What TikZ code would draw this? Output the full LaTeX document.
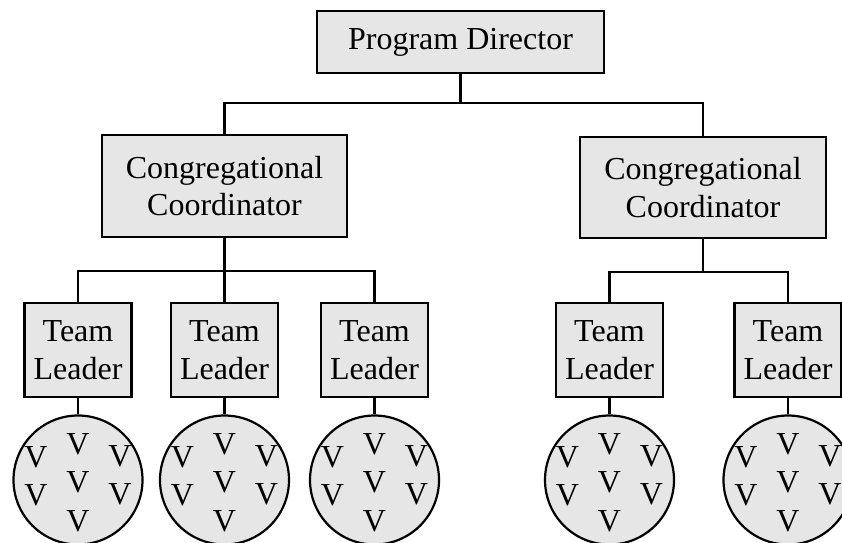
\documentclass[tikz,border=0pt]{standalone}
\usepackage{fontspec}
\setmainfont{Liberation Serif}
\definecolor{boxgray}{HTML}{E6E6E6}
\begin{document}
\begin{tikzpicture}[x=1pt,y=-1pt,line width=2.2pt,
  box/.style={draw=black,fill=boxgray,align=center,inner sep=0pt,
    font=\fontsize{32}{37.5}\selectfont},
  grp/.style={draw=black,fill=boxgray,circle,inner sep=0pt,minimum size=129pt},
  vol/.style={inner sep=0pt,font=\fontsize{32}{37}\selectfont}]
\useasboundingbox (0,0) rectangle (842,542);
% director
\node[box,minimum width=287pt,minimum height=62pt] (pd) at (460.5,42) {Program Director};
% coordinators
\node[box,minimum width=245pt,minimum height=102pt] (cc1) at (224.5,186) {Congregational\\Coordinator};
\node[box,minimum width=246pt,minimum height=101pt] (cc2) at (703,187.5) {Congregational\\Coordinator};
% team leaders and groups
\foreach \k/\x in {1/78,2/224.5,3/374.5,4/609.5,5/788}{
  \node[box,minimum width=107pt,minimum height=94pt] (tl\k) at (\x,350) {Team\\Leader};
  \node[grp] (c\k) at (\x,480) {};
  \foreach \j/\dx/\dy in {1/0/-36,2/-42/-23,3/42/-24,4/0/2,5/-42/15,6/42/14,7/0/41}{
    \node[vol] (v\k\j) at ([xshift=\dx pt,yshift=-\dy pt]c\k.center) {V};
  }
  \draw (tl\k.south) -- (c\k.north);
}
% connectors
\coordinate (j0) at (460.5,103);
\coordinate (j1) at (224.5,271);
\coordinate (j2) at (703,272);
\draw (pd.south) -- (j0);
\draw (cc1.north) -- (cc1.north |- j0) -- (cc2.north |- j0) -- (cc2.north);
\draw (cc1.south) -- (j1);
\draw (tl1.north) -- (tl1.north |- j1) -- (tl3.north |- j1) -- (tl3.north);
\draw (tl2.north) -- (tl2.north |- j1);
\draw (cc2.south) -- (j2);
\draw (tl4.north) -- (tl4.north |- j2) -- (tl5.north |- j2) -- (tl5.north);
\end{tikzpicture}
\end{document}
